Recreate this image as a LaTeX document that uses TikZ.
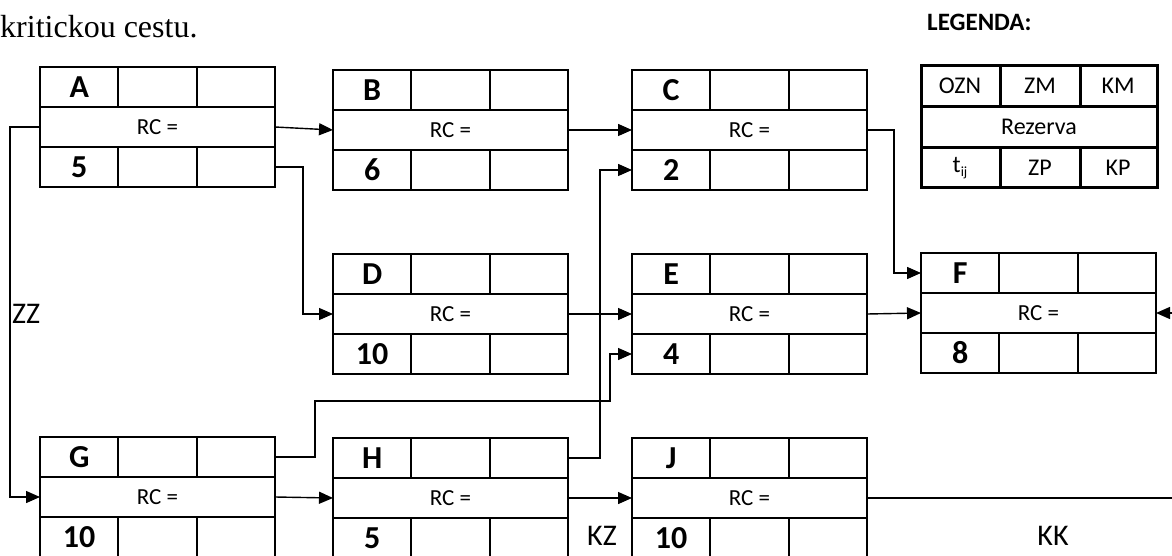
\documentclass[tikz,border=0pt]{standalone}
\usepackage{fontspec}
\setmainfont{Carlito}
\newfontfamily\serifface{Liberation Serif}
\usetikzlibrary{arrows.meta,calc}
\newcommand\tbox[5]{%
  \node[box] (#1) at (#2+117.5,#3+60) {};
  \draw[grid] ($(#1.north west)+(0,40)$) -- ($(#1.north east)+(0,40)$);
  \draw[grid] ($(#1.south west)+(0,-40)$) -- ($(#1.south east)+(0,-40)$);
  \draw[grid] ($(#1.north west)+(78.3,0)$) -- ++(0,40);
  \draw[grid] ($(#1.north west)+(156.7,0)$) -- ++(0,40);
  \draw[grid] ($(#1.south west)+(78.3,0)$) -- ++(0,-40);
  \draw[grid] ($(#1.south west)+(156.7,0)$) -- ++(0,-40);
  \coordinate (#1-tl) at ($(#1.north west)+(0,20)$);
  \coordinate (#1-tr) at ($(#1.north east)+(0,20)$);
  \coordinate (#1-bl) at ($(#1.south west)+(0,-20)$);
  \coordinate (#1-br) at ($(#1.south east)+(0,-20)$);
  \node[lab] (#1-name) at ($(#1.north west)+(39.2,20)$) {#4};
  \node[rc] (#1-rc) at (#1) {RC =};
  \node[lab] (#1-dur) at ($(#1.south west)+(39.2,-20)$) {#5};
}
\begin{document}
\begin{tikzpicture}[x=1pt,y=-1pt,
  box/.style={draw,line width=1.8pt,minimum width=235pt,minimum height=120pt,inner sep=0pt,outer sep=0pt},
  grid/.style={line width=1.8pt},
  conn/.style={line width=1.4pt},
  arr/.style={conn,-{Triangle[length=14pt,width=12pt]}},
  lab/.style={font=\fontsize{32}{32}\selectfont\bfseries,inner sep=0pt},
  rc/.style={font=\fontsize{23}{23}\selectfont,inner sep=0pt},
  big/.style={font=\fontsize{30}{30}\selectfont,inner sep=0pt},
  legtxt/.style={font=\fontsize{24}{24}\selectfont,inner sep=0pt},
  legline/.style={line width=3pt}]
\useasboundingbox (0,0) rectangle (1172,556);
\fill[white] (0,0) rectangle (1172,556);

\node[anchor=base west,inner sep=0pt,font=\serifface\fontsize{32}{32}\selectfont] (txt) at (0,38) {kritickou cestu.};
\node[anchor=west,inner sep=0pt,font=\fontsize{25}{25}\selectfont\bfseries] (legtitle) at (927,22) {LEGENDA:};

% legend
\node[draw,legline,minimum width=236pt,minimum height=122pt,inner sep=0pt,outer sep=0pt] (leg) at (1039,127) {};
\draw[legline] ($(leg.north west)+(0,40.7)$) -- ($(leg.north east)+(0,40.7)$);
\draw[legline] ($(leg.south west)+(0,-40.7)$) -- ($(leg.south east)+(0,-40.7)$);
\draw[legline] ($(leg.north west)+(79,0)$) -- ++(0,40.7);
\draw[legline] ($(leg.north west)+(159,0)$) -- ++(0,40.7);
\draw[legline] ($(leg.south west)+(79,0)$) -- ++(0,-40.7);
\draw[legline] ($(leg.south west)+(159,0)$) -- ++(0,-40.7);
\node[legtxt] (l1) at (960,86) {OZN};
\node[legtxt] (l2) at (1040,86) {ZM};
\node[legtxt] (l3) at (1118,86) {KM};
\node[legtxt] (l4) at (1039,127) {Rezerva};
\node[legtxt] (l5) at (960,168) {t\raisebox{-0.4ex}{\fontsize{14}{14}\selectfont ij}};
\node[legtxt] (l6) at (1040,168) {ZP};
\node[legtxt] (l7) at (1118,168) {KP};

% boxes
\tbox{A}{40}{67}{A}{5}
\tbox{B}{333}{70}{B}{6}
\tbox{C}{632}{70}{C}{2}
\tbox{D}{333}{254}{D}{10}
\tbox{E}{632}{254}{E}{4}
\tbox{F}{921}{253}{F}{8}
\tbox{G}{40}{437}{G}{10}
\tbox{H}{333}{438}{H}{5}
\tbox{J}{632}{438}{J}{10}

% connectors
\draw[arr] (A.east) -- (B.west);
\draw[arr] (A-br) -- ++(28,0) |- (D.west);
\draw[arr] (A.west) -- ++(-30,0) |- (G.west);
\draw[arr] (B.east) -- (C.west);
\draw[arr] (C.east) -- ++(27,0) |- (F-tl);
\draw[arr] (D.east) -- (E.west);
\draw[arr] (E.east) -- (F.west);
\coordinate (Fin) at (1172,313);
\draw[arr] (Fin) -- (F.east);
\draw[arr] (G-tr) -| (315,401) -- (610,401) |- (E-bl);
\draw[arr] (H-tr) -- ++(32,0) |- (C-bl);
\draw[arr] (G.east) -- (H.west);
\draw[arr] (H.east) -- (J.west);
\coordinate (Jout) at (1172,498);
\draw[conn] (J.east) -- (Jout);

\node[big,anchor=west] (zz) at (12,314) {ZZ};
\node[big] (kz) at (602,536) {KZ};
\node[big] (kk) at (1053,536) {KK};
\end{tikzpicture}
\end{document}
